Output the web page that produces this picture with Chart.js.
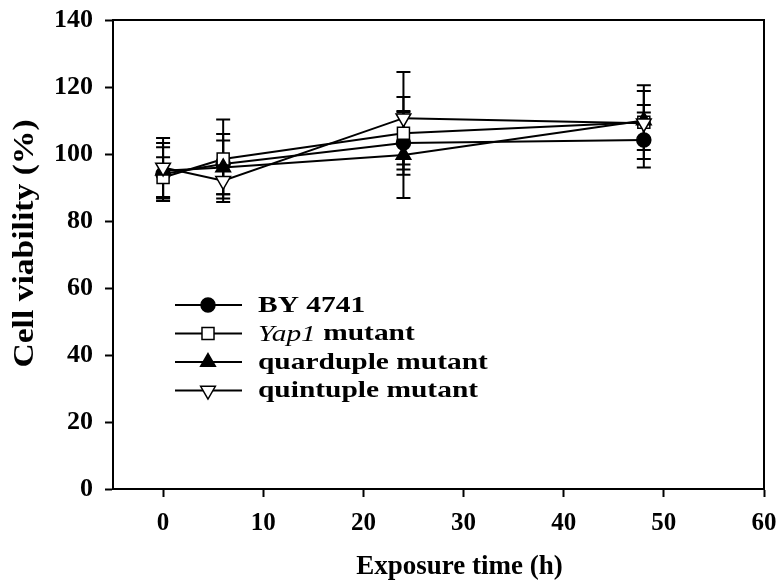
<!DOCTYPE html>
<html>
<head>
<meta charset="utf-8">
<script src="https://cdn.jsdelivr.net/npm/chart.js@4/dist/chart.umd.min.js"></script>
<style>
  body { margin: 0; background: #fff; }
  canvas { display: block; }
</style>
</head>
<body>
<canvas id="grafica" width="778" height="584"></canvas>
<script>
const horas = [0, 6, 24, 48];
const nombres = ['BY 4741', 'Yap1 mutant', 'quarduple mutant', 'quintuple mutant'];
const cursiva = ['Yap1'];
const tituloX = 'Exposure time (h)';
const tituloY = 'Cell viability (%)';

const by4741 = [94, 97, 103.3, 104.2];
const yap1 = [93, 98.5, 106.2, 109.5];
const cuadruple = [95, 96, 99.7, 110];
const quintuple = [96, 92, 110.7, 109.2];

const errBy = [8, 9, 9.5, 8.2];
const errYap = [6, 11.8, 10.8, 11];
const errCuad = [8.3, 8, 12.8, 8.8];
const errQuint = [8.8, 6.3, 13.8, 5.4];

const fuente = "'Liberation Serif', serif";

const estilos = [
    { pointStyle: 'circle', fill: '#000', radius: 7, rotation: 0 },
    { pointStyle: 'rect', fill: '#fff', radius: 8.5, rotation: 0 },
    { pointStyle: 'triangle', fill: '#000', radius: 8.5, rotation: 0 },
    { pointStyle: 'triangle', fill: '#fff', radius: 8.5, rotation: 180 }
];

const series = [by4741, yap1, cuadruple, quintuple];
const errores = [errBy, errYap, errCuad, errQuint];

const datasets = series.map(function(valores, i) {
    return {
        label: nombres[i],
        data: horas.map(function(h, j) { return { x: h, y: valores[j] }; }),
        errores: errores[i],
        showLine: true,
        borderColor: '#000',
        borderWidth: 2,
        backgroundColor: estilos[i].fill,
        pointStyle: estilos[i].pointStyle,
        pointRadius: estilos[i].radius,
        pointRotation: estilos[i].rotation,
        pointBorderColor: '#000',
        pointBorderWidth: 1.5,
        pointBackgroundColor: estilos[i].fill,
        order: 4 - i
    };
});

// barras de error, debajo de los marcadores
const barrasError = {
    id: 'barrasError',
    beforeDatasetsDraw(chart) {
        const ctx = chart.ctx;
        const xS = chart.scales.x, yS = chart.scales.y;
        ctx.save();
        ctx.strokeStyle = '#000';
        ctx.lineWidth = 2;
        chart.data.datasets.forEach(function(ds) {
            ds.data.forEach(function(p, j) {
                const e = ds.errores[j];
                const x = xS.getPixelForValue(p.x);
                const y1 = yS.getPixelForValue(p.y + e);
                const y2 = yS.getPixelForValue(p.y - e);
                ctx.beginPath();
                ctx.moveTo(x, y1); ctx.lineTo(x, y2);
                ctx.moveTo(x - 7, y1); ctx.lineTo(x + 7, y1);
                ctx.moveTo(x - 7, y2); ctx.lineTo(x + 7, y2);
                ctx.stroke();
            });
        });
        ctx.restore();
    }
};

// marco superior y derecho + titulos de ejes
const marco = {
    id: 'marco',
    afterDraw(chart) {
        const a = chart.chartArea;
        const ctx = chart.ctx;
        ctx.save();
        ctx.strokeStyle = '#000';
        ctx.lineWidth = 2;
        ctx.beginPath();
        ctx.moveTo(a.left, a.top);
        ctx.lineTo(a.right, a.top);
        ctx.lineTo(a.right, a.bottom);
        ctx.stroke();

        ctx.fillStyle = '#000';
        ctx.textAlign = 'center';
        ctx.textBaseline = 'middle';
        ctx.font = 'bold 27px ' + fuente;
        const xs = chart.scales.x;
        const cx = (xs.getPixelForValue(0) + xs.getPixelForValue(60)) / 2 - 4;
        ctx.fillText(tituloX, cx, 567);

        ctx.translate(25, (a.top + a.bottom) / 2 - 11);
        ctx.rotate(-Math.PI / 2);
        ctx.scale(1.12, 1);
        ctx.font = 'bold 30px ' + fuente;
        ctx.fillText(tituloY, 0, 0);
        ctx.restore();
    }
};

// leyenda dentro del area del grafico
const leyenda = {
    id: 'leyenda',
    afterDraw(chart) {
        const ctx = chart.ctx;
        const a = chart.chartArea;
        const x0 = a.left + 62, x1 = a.left + 129, xm = a.left + 95, xt = a.left + 145;
        const estirar = 1.28;
        ctx.save();
        chart.data.datasets.forEach(function(ds, i) {
            const y = a.top + 285 + i * 28.5;
            ctx.strokeStyle = '#000';
            ctx.lineWidth = 2;
            ctx.beginPath();
            ctx.moveTo(x0, y); ctx.lineTo(x1, y);
            ctx.stroke();
            ctx.fillStyle = estilos[i].fill;
            ctx.lineWidth = 1.5;
            Chart.helpers.drawPoint(ctx, {
                pointStyle: estilos[i].pointStyle,
                radius: estilos[i].radius,
                rotation: estilos[i].rotation,
                borderWidth: 1.5
            }, xm, y);

            ctx.fillStyle = '#000';
            ctx.textBaseline = 'middle';
            ctx.textAlign = 'left';
            let x = 0;
            ctx.translate(xt, y + 1);
            ctx.scale(estirar, 1);
            let texto = ds.label;
            cursiva.forEach(function(w) {
                if (texto.indexOf(w) === 0) {
                    ctx.font = 'italic 23px ' + fuente;
                    ctx.fillText(w, x, 0);
                    x += ctx.measureText(w).width;
                    texto = texto.slice(w.length);
                }
            });
            ctx.font = 'bold 23px ' + fuente;
            ctx.fillText(texto, x, 0);
            ctx.setTransform(1, 0, 0, 1, 0, 0);
        });
        ctx.restore();
    }
};

const config = {
    type: 'scatter',
    data: { datasets: datasets },
    plugins: [barrasError, marco, leyenda],
    options: {
        responsive: false,
        animation: false,
        layout: { padding: { top: 20, right: 14, left: 0, bottom: 0 } },
        plugins: {
            legend: { display: false },
            tooltip: { enabled: false }
        },
        scales: {
            x: {
                type: 'linear',
                min: -5,
                max: 60,
                afterBuildTicks: function(scale) {
                    scale.ticks = scale.ticks.filter(function(t) { return t.value >= 0; });
                },
                afterFit: function(scale) {
                    scale.height = 95;
                    scale.paddingLeft = 0;
                    scale.paddingRight = 0;
                },
                ticks: {
                    stepSize: 10,
                    color: '#000',
                    padding: 12,
                    maxRotation: 0,
                    font: { family: fuente, size: 25, weight: 'bold' }
                },
                grid: { display: true, drawOnChartArea: false, tickLength: 8, tickWidth: 2, tickColor: '#000' },
                border: { display: true, color: '#000', width: 2 },
                title: { display: false }
            },
            y: {
                min: 0,
                max: 140,
                afterFit: function(scale) {
                    scale.width = 113;
                    scale.paddingTop = 0;
                    scale.paddingBottom = 0;
                },
                ticks: {
                    stepSize: 20,
                    color: '#000',
                    padding: 12,
                    font: { family: fuente, size: 26, weight: 'bold' }
                },
                grid: { display: true, drawOnChartArea: false, tickLength: 8, tickWidth: 2, tickColor: '#000' },
                border: { display: true, color: '#000', width: 2 },
                title: { display: false }
            }
        }
    }
};

const ctx = document.querySelector('#grafica');
const graficaViabilidad = new Chart(ctx, config);
</script>
</body>
</html>
